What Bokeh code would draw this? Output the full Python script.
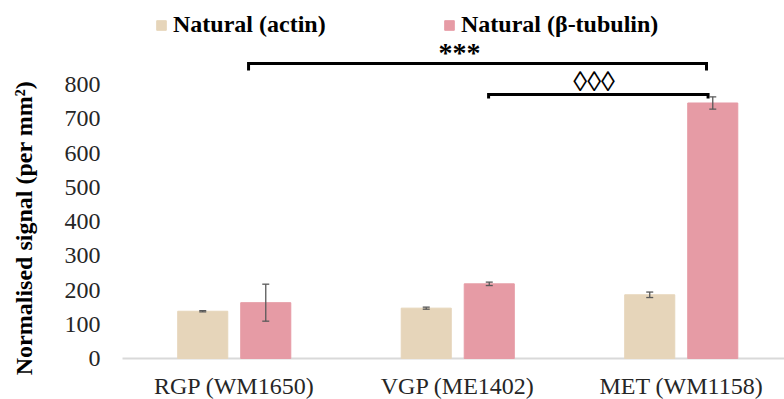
import math
from bokeh.plotting import figure
from bokeh.models import (ColumnDataSource, Range1d, Whisker, TeeHead,
                          Legend, LegendItem)
from bokeh.core.properties import value
from bokeh.embed import file_html
from bokeh.resources import INLINE

# ---- data ----
categories = ["RGP (WM1650)", "VGP (ME1402)", "MET (WM1158)"]
cat_pos = [0.5, 1.5, 2.5]
actin = [138, 147, 186]
actin_err = [2, 3, 8]
tubulin = [163, 218, 746]
tubulin_err = [54, 5, 18]
series_names = ["Natural (actin)", "Natural (β-tubulin)"]
y_ticks = [0, 100, 200, 300, 400, 500, 600, 700, 800]
y_title = "Normalised signal (per mm²)"

# significance annotations (data coords)
sig_labels = ["***", "◊◊◊"]
sig_x0 = [0.564, 1.638]
sig_x1 = [2.613, 2.620]
sig_top = [861, 771]
sig_bottom = [841, 759]
sig_label_x = [1.508, 2.11]
sig_label_y = [894, 809]

ACTIN_C = "#E6D5BA"
TUB_C = "#E69BA5"
SERIF = "Liberation Serif"

W, H = 784, 399
# frame covers the whole canvas; data origin sits at (122px, 358px)
PX_X = 223.5   # px per category unit
PX_Y = 0.3425  # px per signal unit
X0, Y0 = 122, 358
p = figure(width=W, height=H, output_backend="svg", toolbar_location=None,
           x_range=Range1d(-X0 / PX_X, (W - X0) / PX_X),
           y_range=Range1d(-(H - Y0) / PX_Y, Y0 / PX_Y),
           min_border=0)
p.outline_line_color = None
p.grid.visible = False
p.axis.visible = False
p.background_fill_color = "white"
p.border_fill_color = "white"

# category axis line
x_end = (W - X0) / PX_X
p.segment(x0=[0], y0=[0], x1=[x_end], y1=[0], line_color="#D9D9D9", line_width=2)

off = 0.141
bw = 0.224
xa = [c - off for c in cat_pos]
xt = [c + off for c in cat_pos]

src_a = ColumnDataSource(dict(x=xa, top=actin,
                              upper=[v + e for v, e in zip(actin, actin_err)],
                              lower=[v - e for v, e in zip(actin, actin_err)]))
src_t = ColumnDataSource(dict(x=xt, top=tubulin,
                              upper=[v + e for v, e in zip(tubulin, tubulin_err)],
                              lower=[v - e for v, e in zip(tubulin, tubulin_err)]))

ra = p.vbar(x="x", top="top", width=bw, source=src_a, fill_color=ACTIN_C,
            line_color=ACTIN_C, line_width=1)
rt = p.vbar(x="x", top="top", width=bw, source=src_t, fill_color=TUB_C,
            line_color=TUB_C, line_width=1)

for s in (src_a, src_t):
    w = Whisker(source=s, base="x", upper="upper", lower="lower", level="overlay",
                line_color="#595959", line_width=1.3,
                upper_head=TeeHead(size=7, line_color="#595959", line_width=1.3),
                lower_head=TeeHead(size=7, line_color="#595959", line_width=1.3))
    p.add_layout(w)

# category labels
p.text(x=cat_pos, y=[-80] * len(cat_pos), text=categories, text_align="center",
       text_baseline="middle", text_font=value(SERIF), text_font_size="24px",
       text_color="#262626")

# y tick labels
p.text(x=[-22 / PX_X] * len(y_ticks), y=y_ticks, text=[str(t) for t in y_ticks],
       text_align="right", text_baseline="middle", text_font=value(SERIF),
       text_font_size="24px", text_color="#262626")

# y axis title
p.text(x=[-99 / PX_X], y=[381], text=[y_title], angle=math.pi / 2,
       text_align="center", text_baseline="middle", text_font=value(SERIF),
       text_font_size="24px", text_font_style="bold", text_color="black")

# significance brackets
xs = [[a, a, b, b] for a, b in zip(sig_x0, sig_x1)]
ys = [[lo, hi, hi, lo] for hi, lo in zip(sig_top, sig_bottom)]
p.multi_line(xs=xs, ys=ys, line_color="black", line_width=3, line_join="miter")
p.text(x=sig_label_x, y=sig_label_y, text=sig_labels, text_align="center",
       text_baseline="middle", text_font=value(SERIF), text_font_size="28px",
       text_font_style="bold", text_color="black")

# legends
for name, r, loc in zip(series_names, (ra, rt), [(155, 361), (443, 361)]):
    lg = Legend(items=[LegendItem(label=name, renderers=[r])], location=loc,
                orientation="horizontal", padding=0, margin=0,
                border_line_color=None, background_fill_alpha=0,
                glyph_width=12, glyph_height=12, label_standoff=6,
                label_text_font=SERIF, label_text_font_size="24px",
                label_text_font_style="bold", label_text_color="black")
    p.add_layout(lg)

open("out.html", "w").write(file_html(p, INLINE))
